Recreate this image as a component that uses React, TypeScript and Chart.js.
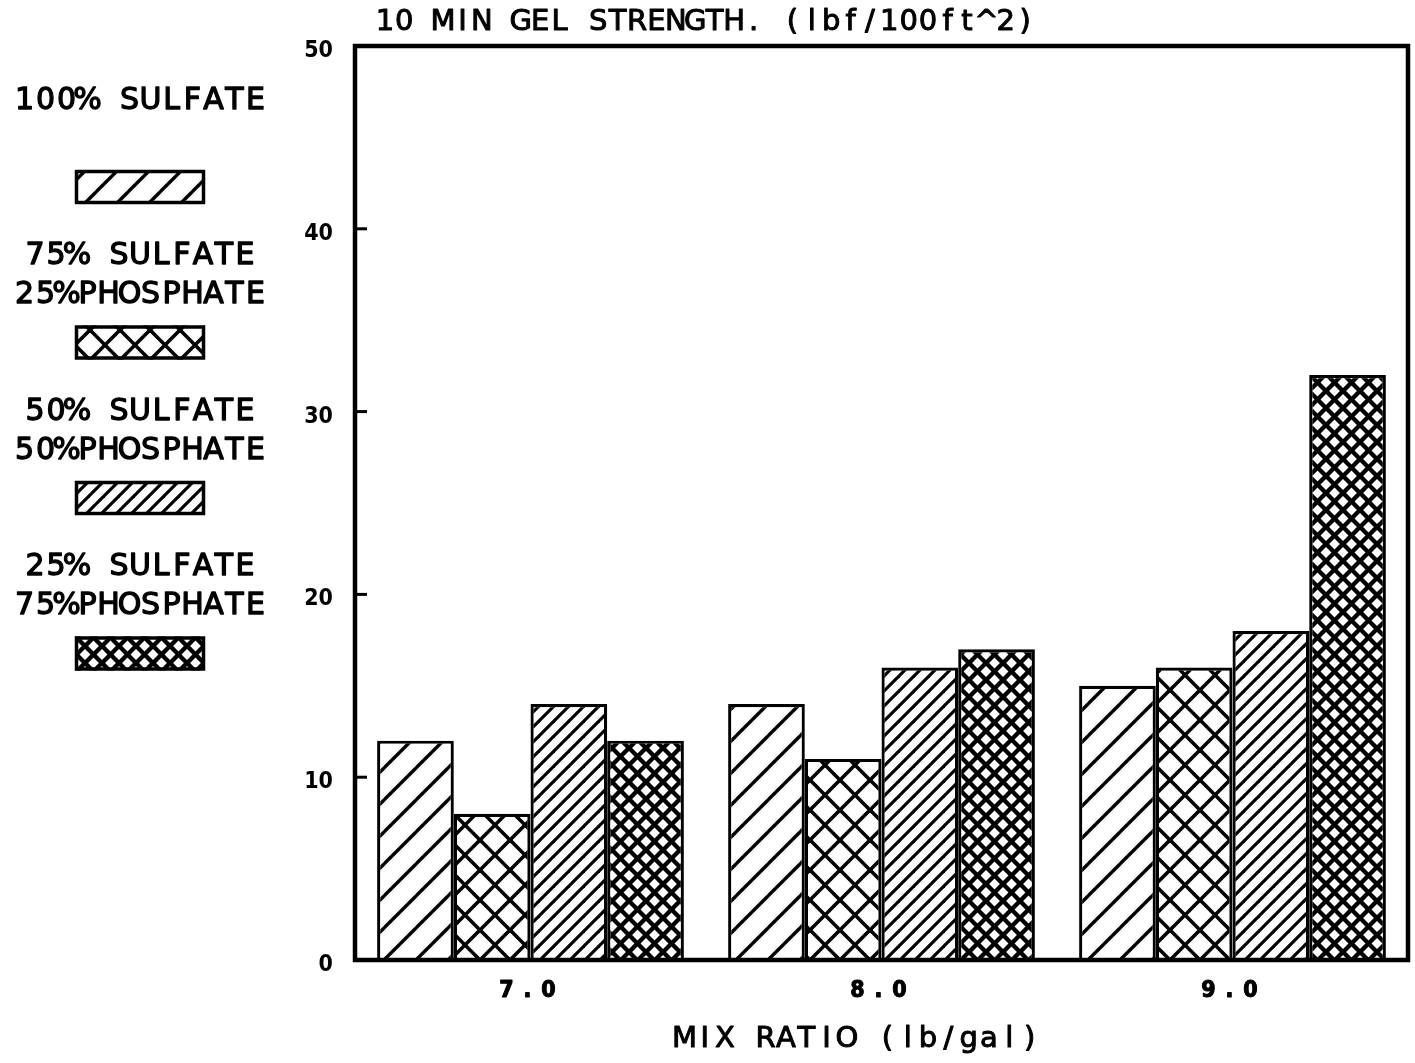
import React, { useEffect, useRef } from "react";
import { Chart, registerables } from "chart.js";

Chart.register(...registerables);

// ---- data ----
const CATEGORIES = ["7.0", "8.0", "9.0"];
const SULFATE_100 = [12, 14, 15];
const SULFATE_75_PHOSPHATE_25 = [8, 11, 16];
const SULFATE_50_PHOSPHATE_50 = [14, 16, 18];
const SULFATE_25_PHOSPHATE_75 = [12, 17, 32];
const SERIES_LABEL_LINES = [
  ["100% SULFATE", ""],
  ["75% SULFATE", "25%PHOSPHATE"],
  ["50% SULFATE", "50%PHOSPHATE"],
  ["25% SULFATE", "75%PHOSPHATE"],
];
const Y_MIN = 0;
const Y_MAX = 50;
const Y_STEP = 10;
const CHART_TITLE = "10 MIN GEL STRENGTH. (lbf/100ft^2)";
const X_TITLE = "MIX RATIO (lb/gal)";

// ---- styles ----
const PATTERN_STYLES = [
  { tile: 32, slash: true, back: false, lw: 3.4 },
  { tile: 30, slash: true, back: true, lw: 3.6 },
  { tile: 15, slash: true, back: false, lw: 3.2 },
  { tile: 17, slash: true, back: true, lw: 4.4 },
];
const TEXT_FONT = '30px "DejaVu Sans"';

function makePattern(style: { tile: number; slash: boolean; back: boolean; lw: number }) {
  const T = style.tile;
  const c = document.createElement("canvas");
  c.width = T;
  c.height = T;
  const g = c.getContext("2d")!;
  g.fillStyle = "#fff";
  g.fillRect(0, 0, T, T);
  g.strokeStyle = "#000";
  g.lineWidth = style.lw;
  g.lineCap = "butt";
  if (style.slash) {
    for (const k of [0, T, 2 * T]) {
      g.beginPath();
      g.moveTo(k + T, -T);
      g.lineTo(k - 2 * T, 2 * T);
      g.stroke();
    }
  }
  if (style.back) {
    for (const k of [-T, 0, T]) {
      g.beginPath();
      g.moveTo(k - T, -T);
      g.lineTo(k + 2 * T, 2 * T);
      g.stroke();
    }
  }
  const p = document.createElement("canvas").getContext("2d")!.createPattern(c, "repeat");
  return p as CanvasPattern;
}

function drawPitched(
  ctx: CanvasRenderingContext2D,
  text: string,
  cx: number,
  cy: number,
  pitch: number,
  font: string,
  stroke = 1
) {
  ctx.save();
  ctx.font = font;
  ctx.fillStyle = "#000";
  ctx.strokeStyle = "#000";
  ctx.lineWidth = stroke;
  ctx.lineJoin = "round";
  ctx.textAlign = "center";
  ctx.textBaseline = "middle";
  const n = text.length;
  const start = cx - (n * pitch) / 2 + pitch / 2;
  for (let i = 0; i < n; i++) {
    ctx.fillText(text[i], start + i * pitch, cy);
    if (stroke > 0) ctx.strokeText(text[i], start + i * pitch, cy);
  }
  ctx.restore();
}

export default function App() {
  const ref = useRef<HTMLCanvasElement | null>(null);

  useEffect(() => {
    document.body.style.margin = "0";
    document.body.style.background = "#fff";
    const canvas = ref.current!;
    const patterns = PATTERN_STYLES.map(makePattern);
    const seriesValues = [SULFATE_100, SULFATE_75_PHOSPHATE_25, SULFATE_50_PHOSPHATE_50, SULFATE_25_PHOSPHATE_75];

    const decor = {
      id: "decor",
      beforeDraw(chart: any) {
        const ctx = chart.ctx;
        ctx.save();
        ctx.fillStyle = "#fff";
        ctx.fillRect(0, 0, chart.width, chart.height);
        ctx.restore();
      },
      afterDraw(chart: any) {
        const ctx: CanvasRenderingContext2D = chart.ctx;
        const { left, right, top, bottom } = chart.chartArea;
        const yScale = chart.scales.y;
        const xScale = chart.scales.x;

        // frame
        ctx.save();
        ctx.strokeStyle = "#000";
        ctx.lineWidth = 4.5;
        ctx.strokeRect(left, top, right - left, bottom - top);
        // inward y tick marks
        ctx.lineWidth = 3;
        yScale.ticks.forEach((t: any) => {
          const y = yScale.getPixelForValue(t.value);
          ctx.beginPath();
          ctx.moveTo(left, y);
          ctx.lineTo(left + 12, y);
          ctx.stroke();
        });
        ctx.restore();

        // x tick labels
        (chart.data.labels as string[]).forEach((lab, i) => {
          const x = xScale.getPixelForValue(i);
          drawPitched(ctx, lab, x - 3, bottom + 31, 21, 'bold 23px "DejaVu Sans Condensed"', 1);
        });

        // titles
        drawPitched(ctx, CHART_TITLE, 705, 22, 19.4, '29px "DejaVu Sans"', 1);
        drawPitched(ctx, X_TITLE, 857, 1039, 20.3, '29px "DejaVu Sans"', 1);

        // legend
        chart.data.datasets.forEach((ds: any, i: number) => {
          const y0 = 101 + i * 155.5;
          const lines = SERIES_LABEL_LINES[i];
          drawPitched(ctx, lines[0], 140, y0, 21, TEXT_FONT, 1.3);
          if (lines[1]) drawPitched(ctx, lines[1], 140, y0 + 39, 21, TEXT_FONT, 1.3);
          const sy = y0 + 86 - 17;
          ctx.save();
          ctx.fillStyle = ds.backgroundColor;
          ctx.fillRect(75, sy, 130, 34);
          ctx.strokeStyle = "#000";
          ctx.lineWidth = 3.5;
          ctx.strokeRect(76.5, sy + 1.5, 127, 31);
          ctx.restore();
        });
      },
    };

    const chart = new Chart(canvas, {
      type: "bar",
      data: {
        labels: CATEGORIES,
        datasets: seriesValues.map((vals, i) => ({
          label: SERIES_LABEL_LINES[i].filter(Boolean).join(" "),
          data: vals,
          backgroundColor: patterns[i],
          borderColor: "#000",
          borderWidth: 3.2,
          borderSkipped: "start",
          barPercentage: 1,
          categoryPercentage: 0.874,
        })),
      },
      options: {
        animation: false,
        responsive: false,
        maintainAspectRatio: false,
        layout: { padding: { top: 46, right: 7, left: 0, bottom: 0 } },
        plugins: {
          legend: { display: false },
          title: { display: false },
          tooltip: { enabled: false },
        },
        scales: {
          x: {
            type: "category",
            grid: { display: false },
            border: { display: false },
            ticks: { display: false },
            afterFit: (s: any) => {
              s.height = 103;
            },
          },
          y: {
            min: Y_MIN,
            max: Y_MAX,
            grid: { display: false },
            border: { display: false },
            ticks: {
              stepSize: Y_STEP,
              color: "#000",
              padding: 14,
              labelOffset: 5,
              font: { family: '"DejaVu Sans Condensed"', weight: "bold", size: 23 },
            },
            afterFit: (s: any) => {
              s.width = 355;
            },
          },
        },
      },
      plugins: [decor],
    } as any);

    return () => chart.destroy();
  }, []);

  return (
    <div style={{ position: "absolute", left: 0, top: 0, width: 1415, height: 1063, background: "#fff" }}>
      <canvas ref={ref} width={1415} height={1063} style={{ width: 1415, height: 1063, display: "block" }} />
    </div>
  );
}
